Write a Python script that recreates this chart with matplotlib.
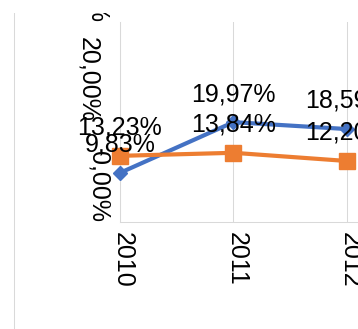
import matplotlib
matplotlib.use('Agg')
import matplotlib.pyplot as plt
from matplotlib.transforms import ScaledTranslation
from matplotlib.lines import Line2D
from matplotlib.patches import Rectangle

plt.rcParams['font.family'] = ['Liberation Sans', 'DejaVu Sans']

years = ['2010', '2011', '2012']
series_blue = [9.83, 19.97, 18.59]
series_orange = [13.23, 13.84, 12.20]
blue_labels = ['9,83%', '19,97%', '18,59%']
orange_labels = ['13,23%', '13,84%', '12,20%']
y_ticks = [0, 20, 40]
y_tick_labels = ['0,00%', '20,00%', '40,00%']

BLUE = '#4472C4'
ORANGE = '#ED7D31'
GRID = '#D9D9D9'
FS = 18

W, H = 358, 329
fig = plt.figure(figsize=(W / 100, H / 100), dpi=100)
ax = fig.add_axes([120 / W, 107 / H, 340.5 / W, 200 / H])

x = list(range(len(years)))
ax.plot(x, series_blue, color=BLUE, lw=3, marker='D', ms=7, zorder=3, clip_on=False)
ax.plot(x, series_orange, color=ORANGE, lw=3, marker='s', ms=12, zorder=4, clip_on=False)

ax.set_xlim(0, 3)
ax.set_ylim(0, 40)
ax.set_xticks(x)
ax.set_xticklabels(years, rotation=-90, ha='center', va='top', fontsize=FS)
ax.set_yticks(y_ticks)
ax.set_yticklabels(y_tick_labels, rotation=-90, ha='right', va='bottom', fontsize=FS)
ax.tick_params(axis='x', length=0, pad=7.5)
ax.tick_params(axis='y', length=0, pad=7.0)

ax.grid(axis='x', color=GRID, lw=0.75)
ax.set_axisbelow(True)
for s in ['top', 'right']:
    ax.spines[s].set_visible(False)
for s in ['left', 'bottom']:
    ax.spines[s].set_color(GRID)
    ax.spines[s].set_linewidth(0.75)

# per-label offsets
for lab in ax.get_xticklabels():
    lab.set_transform(lab.get_transform() + ScaledTranslation(3 / 100, 0, fig.dpi_scale_trans))
ylabs = ax.get_yticklabels()
ylabs[1].set_transform(ylabs[1].get_transform() + ScaledTranslation(-10 / 100, 0, fig.dpi_scale_trans))

for i, (v, t) in enumerate(zip(series_blue, blue_labels)):
    ax.annotate(t, (i, v), xytext=(0, 15.2), textcoords='offset points',
                ha='center', va='baseline', fontsize=FS, zorder=6, annotation_clip=False)
for i, (v, t) in enumerate(zip(series_orange, orange_labels)):
    ax.annotate(t, (i, v), xytext=(0, 15.2), textcoords='offset points',
                ha='center', va='baseline', fontsize=FS, zorder=6, annotation_clip=False)

fig.add_artist(Line2D([13.5 / W, 13.5 / W], [0, 1 - 13 / H], transform=fig.transFigure,
                      color=GRID, lw=0.75))
fig.add_artist(Rectangle((0, 1 - 13 / H), 1, 13 / H, transform=fig.transFigure,
                         facecolor='white', edgecolor='none', zorder=10))

fig.savefig('out.png', dpi=100)
